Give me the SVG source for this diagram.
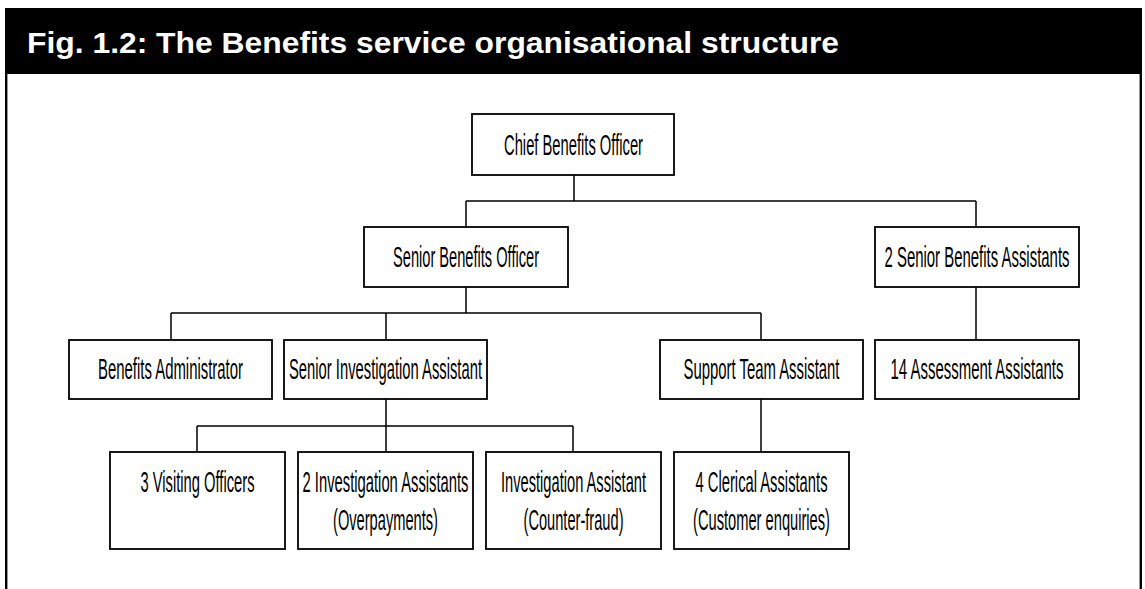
<svg xmlns="http://www.w3.org/2000/svg" width="1145" height="589" viewBox="0 0 1145 589">
  <style>
    .box { fill: #ffffff; stroke: #000000; stroke-width: 1.8; }
    .lbl { font-family: "Liberation Sans", Arial, sans-serif; font-size: 30px; fill: #000000; text-anchor: middle; }
    .wire { fill: none; stroke: #000000; stroke-width: 1.5; }
    .title { font-family: "Liberation Sans", Arial, sans-serif; font-size: 30px; font-weight: bold; fill: #ffffff; }
  </style>

  <rect x="0" y="0" width="1145" height="589" fill="#ffffff"/>

  <!-- frame and title band -->
  <g id="frame">
    <line x1="6.2" y1="8" x2="6.2" y2="589" stroke="#000" stroke-width="2.4"/>
    <line x1="1140.8" y1="8" x2="1140.8" y2="589" stroke="#000" stroke-width="2.4"/>
    <rect x="5" y="8" width="1137" height="66" fill="#000000"/>
    <text class="title" x="27" y="53" textLength="812" lengthAdjust="spacingAndGlyphs">Fig. 1.2: The Benefits service organisational structure</text>
  </g>

  <!-- connectors -->
  <g id="connectors">
    <path class="wire" d="M574 175 V201 M466 201 H976 M466 201 V227 M976 201 V227"/>
    <path class="wire" d="M466 287 V313 M171 313 H761 M171 313 V340 M386 313 V340 M761 313 V340"/>
    <path class="wire" d="M976 287 V340"/>
    <path class="wire" d="M386 399 V426 M197 426 H573 M197 426 V452 M386 426 V452 M573 426 V452"/>
    <path class="wire" d="M761 399 V452"/>
  </g>

  <!-- labels use a condensed face: half-width glyphs, textLength given in unscaled units -->
  <g id="chief-benefits-officer">
    <rect class="box" x="472" y="114" width="202" height="61"/>
    <text class="lbl" transform="translate(573.5 155) scale(0.5 1)" textLength="278" lengthAdjust="spacingAndGlyphs">Chief Benefits Officer</text>
  </g>

  <g id="senior-benefits-officer">
    <rect class="box" x="364" y="227" width="204" height="60"/>
    <text class="lbl" transform="translate(466 267) scale(0.5 1)" textLength="292" lengthAdjust="spacingAndGlyphs">Senior Benefits Officer</text>
  </g>

  <g id="senior-benefits-assistants">
    <rect class="box" x="875" y="227" width="204" height="60"/>
    <text class="lbl" transform="translate(977 267) scale(0.5 1)" textLength="370" lengthAdjust="spacingAndGlyphs">2 Senior Benefits Assistants</text>
  </g>

  <g id="benefits-administrator">
    <rect class="box" x="69" y="340" width="203" height="59"/>
    <text class="lbl" transform="translate(170.5 379) scale(0.5 1)" textLength="290" lengthAdjust="spacingAndGlyphs">Benefits Administrator</text>
  </g>

  <g id="senior-investigation-assistant">
    <rect class="box" x="284" y="340" width="203" height="59"/>
    <text class="lbl" transform="translate(385.5 379) scale(0.5 1)" textLength="386" lengthAdjust="spacingAndGlyphs">Senior Investigation Assistant</text>
  </g>

  <g id="support-team-assistant">
    <rect class="box" x="660" y="340" width="203" height="59"/>
    <text class="lbl" transform="translate(761.5 379) scale(0.5 1)" textLength="312" lengthAdjust="spacingAndGlyphs">Support Team Assistant</text>
  </g>

  <g id="assessment-assistants">
    <rect class="box" x="875" y="340" width="204" height="59"/>
    <text class="lbl" transform="translate(977 379) scale(0.5 1)" textLength="346" lengthAdjust="spacingAndGlyphs">14 Assessment Assistants</text>
  </g>

  <g id="visiting-officers">
    <rect class="box" x="110" y="452" width="175" height="97"/>
    <text class="lbl" transform="translate(197.5 492) scale(0.5 1)" textLength="228" lengthAdjust="spacingAndGlyphs">3 Visiting Officers</text>
  </g>

  <g id="investigation-assistants-overpayments">
    <rect class="box" x="298" y="452" width="175" height="97"/>
    <text class="lbl" transform="translate(385.5 492) scale(0.5 1)" textLength="332" lengthAdjust="spacingAndGlyphs">2 Investigation Assistants</text>
    <text class="lbl" transform="translate(385.5 530) scale(0.5 1)" textLength="210" lengthAdjust="spacingAndGlyphs">(Overpayments)</text>
  </g>

  <g id="investigation-assistant-counter-fraud">
    <rect class="box" x="486" y="452" width="175" height="97"/>
    <text class="lbl" transform="translate(573.5 492) scale(0.5 1)" textLength="290" lengthAdjust="spacingAndGlyphs">Investigation Assistant</text>
    <text class="lbl" transform="translate(573.5 530) scale(0.5 1)" textLength="200" lengthAdjust="spacingAndGlyphs">(Counter-fraud)</text>
  </g>

  <g id="clerical-assistants">
    <rect class="box" x="674" y="452" width="175" height="97"/>
    <text class="lbl" transform="translate(761.5 492) scale(0.5 1)" textLength="264" lengthAdjust="spacingAndGlyphs">4 Clerical Assistants</text>
    <text class="lbl" transform="translate(761.5 530) scale(0.5 1)" textLength="274" lengthAdjust="spacingAndGlyphs">(Customer enquiries)</text>
  </g>
</svg>
